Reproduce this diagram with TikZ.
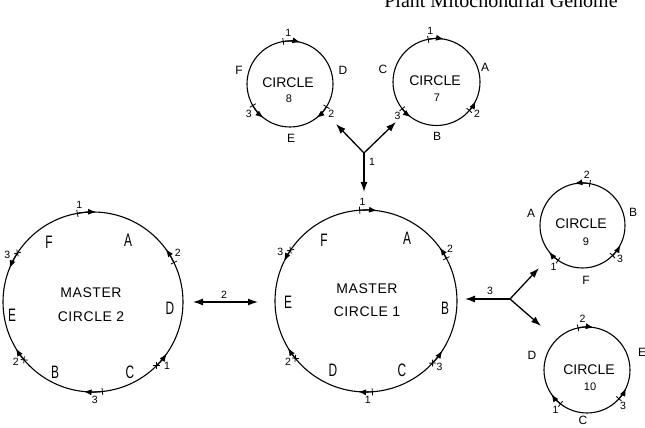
\documentclass[tikz,border=0pt]{standalone}
\usepackage{fontspec}
\usepackage{graphicx}
\setmainfont{Liberation Sans}
\newfontfamily\headfont{Liberation Serif}
\usetikzlibrary{calc,arrows.meta}

% condensed capitals for the segment letters of the master circles
\newcommand\cond[1]{\scalebox{0.66}[1]{#1}}

\tikzset{
  ring/.style={draw, circle, line width=1.1pt, inner sep=0pt},
  tickmark/.style={line width=0.8pt},
  dirtip/.style={line width=1.1pt, -{Latex[length=8pt,width=6pt]}},
  flow/.style={line width=1.3pt, -{Latex[length=10pt,width=7pt]}},
  bothflow/.style={line width=1.3pt, {Latex[length=10pt,width=7pt]}-{Latex[length=10pt,width=7pt]}},
  seg/.style={font=\fontsize{18}{18}\selectfont, inner sep=0pt},
  smallseg/.style={font=\fontsize{12}{12}\selectfont, inner sep=0pt},
  numlab/.style={font=\fontsize{10.5}{10.5}\selectfont, inner sep=0pt},
  mtitle/.style={font=\fontsize{14}{14}\selectfont\addfontfeatures{LetterSpace=4}, inner sep=0pt},
  ctitle/.style={font=\fontsize{14}{14}\selectfont, inner sep=0pt},
  cnum/.style={font=\fontsize{11}{11}\selectfont, inner sep=0pt},
}

% repeat junction on a circle:
% #1 circle, #2 radius, #3 tick angle, #4 arrow-tip angle,
% #5 tick kind (0 bar, 1 cross), #6 label, #7 label angle
\newcommand\junc[7]{%
  \ifnum#5=0
    \draw[tickmark] ($(#1)+(#3:{#2-3.5})$) -- ($(#1)+(#3:{#2+3.5})$);
  \else
    \draw[tickmark] ($(#1)+(#3:#2)+({#3+45}:3.5)$) -- ($(#1)+(#3:#2)+({#3+225}:3.5)$);
    \draw[tickmark] ($(#1)+(#3:#2)+({#3-45}:3.5)$) -- ($(#1)+(#3:#2)+({#3+135}:3.5)$);
  \fi
  \draw[dirtip] ($(#1)+(#3:#2)$) arc[start angle=#3, end angle=#4, radius=#2];
  \node[numlab] at ($(#1)+(#7:{#2+8})$) {#6};
}

\begin{document}
\begin{tikzpicture}[x=1pt,y=1pt]
\useasboundingbox (0,0) rectangle (645,428);

% running head
\node[anchor=base, font=\headfont\fontsize{20}{20}\selectfont] (hdr) at (501,420) {Plant Mitochondrial Genome};

% ---------------- master circle 2 ----------------
\node[ring, minimum size=180pt] (m2) at (93,126) {};
\junc{m2}{90}{100}{88}{0}{1}{98}
\junc{m2}{90}{26}{36}{0}{2}{30}
\junc{m2}{90}{147}{158}{1}{3}{151}
\junc{m2}{90}{220}{211}{1}{2}{218}
\junc{m2}{90}{276}{264}{0}{3}{271}
\junc{m2}{90}{315}{325}{1}{1}{319}
\node[seg] (m2F) at (49,186) {\cond{F}};
\node[seg] (m2A) at (128,188) {\cond{A}};
\node[seg] (m2E) at (12,113) {\cond{E}};
\node[seg] (m2D) at (170,120) {\cond{D}};
\node[seg] (m2B) at (55,56) {\cond{B}};
\node[seg] (m2C) at (130,56) {\cond{C}};
\node[mtitle] (m2t1) at (91,135) {MASTER};
\node[mtitle] (m2t2) at (91,111) {CIRCLE 2};

% ---------------- master circle 1 ----------------
\node[ring, minimum size=182pt] (m1) at (366,127) {};
\junc{m1}{91}{94}{83}{0}{1}{92}
\junc{m1}{91}{28}{36}{0}{2}{32}
\junc{m1}{91}{146}{154}{1}{3}{150}
\junc{m1}{91}{219}{211}{1}{2}{218}
\junc{m1}{91}{274}{265}{0}{1}{271}
\junc{m1}{91}{317}{327}{1}{3}{318}
\node[seg] (m1F) at (324,188) {\cond{F}};
\node[seg] (m1A) at (407,190) {\cond{A}};
\node[seg] (m1E) at (288,126) {\cond{E}};
\node[seg] (m1B) at (445,120) {\cond{B}};
\node[seg] (m1D) at (333,58) {\cond{D}};
\node[seg] (m1C) at (402,58) {\cond{C}};
\node[mtitle] (m1t1) at (367,139) {MASTER};
\node[mtitle] (m1t2) at (367,116) {CIRCLE 1};

% ---------------- circle 8 ----------------
\node[ring, minimum size=86pt] (c8) at (290,344) {};
\junc{c8}{43}{99}{76}{0}{1}{92}
\junc{c8}{43}{210}{232}{0}{3}{216}
\junc{c8}{43}{328}{308}{0}{2}{324}
\node[smallseg] (c8F) at (239,358) {F};
\node[smallseg] (c8D) at (343,358) {D};
\node[smallseg] (c8E) at (291,290) {E};
\node[ctitle] (c8t) at (288,345) {CIRCLE};
\node[cnum] (c8n) at (289,329) {8};

% ---------------- circle 7 ----------------
\node[ring, minimum size=87pt] (c7) at (436.5,346) {};
\junc{c7}{43.5}{101}{80}{0}{1}{97}
\junc{c7}{43.5}{218}{234}{0}{3}{221}
\junc{c7}{43.5}{319}{334}{0}{2}{322}
\node[smallseg] (c7C) at (383,359) {C};
\node[smallseg] (c7A) at (485,361) {A};
\node[smallseg] (c7B) at (437,292) {B};
\node[ctitle] (c7t) at (435,347) {CIRCLE};
\node[cnum] (c7n) at (437,330) {7};

% ---------------- circle 9 ----------------
\node[ring, minimum size=85pt] (c9) at (582.5,202.5) {};
\junc{c9}{42.5}{80}{101}{0}{2}{85}
\junc{c9}{42.5}{235}{218}{0}{1}{235}
\junc{c9}{42.5}{315}{333}{0}{3}{318}
\node[smallseg] (c9A) at (531,215) {A};
\node[smallseg] (c9B) at (633,216) {B};
\node[smallseg] (c9F) at (586,148) {F};
\node[ctitle] (c9t) at (581,204) {CIRCLE};
\node[cnum] (c9n) at (586,186) {9};

% ---------------- circle 10 ----------------
\node[ring, minimum size=86pt] (c10) at (587,58) {};
\junc{c10}{43}{102}{81}{0}{2}{95}
\junc{c10}{43}{232}{214}{0}{1}{232}
\junc{c10}{43}{318}{335}{0}{3}{315}
\node[smallseg] (c10D) at (532,73) {D};
\node[smallseg] (c10E) at (642,76) {E};
\node[smallseg] (c10C) at (583,7.5) {C};
\node[ctitle] (c10t) at (589,58) {CIRCLE};
\node[cnum] (c10n) at (590,41) {10};

% ---------------- recombination arrows ----------------
% master circle 2 <-> master circle 1 (repeat 2)
\coordinate (r2a) at (193,126);
\coordinate (r2b) at (258,126);
\draw[bothflow] (r2a) -- (r2b);
\node[numlab] (r2lab) at (224,133) {2};

% master circle 1 <-> circles 7 and 8 (repeat 1)
\coordinate (j1) at (364,275);
\coordinate (t1) at (364,236);
\coordinate (t8) at (336,304);
\coordinate (t7) at (396,306);
\draw[flow] (j1) -- (t1);
\draw[flow] (j1) -- (t8);
\draw[flow] (j1) -- (t7);
\node[numlab] (r1lab) at (372,266) {1};

% master circle 1 <-> circles 9 and 10 (repeat 3)
\coordinate (j3) at (510,129);
\coordinate (t3) at (465,129);
\coordinate (t9) at (539,160);
\coordinate (t10) at (541,102);
\draw[flow] (j3) -- (t3);
\draw[flow] (j3) -- (t9);
\draw[flow] (j3) -- (t10);
\node[numlab] (r3lab) at (490,137) {3};
\end{tikzpicture}
\end{document}
